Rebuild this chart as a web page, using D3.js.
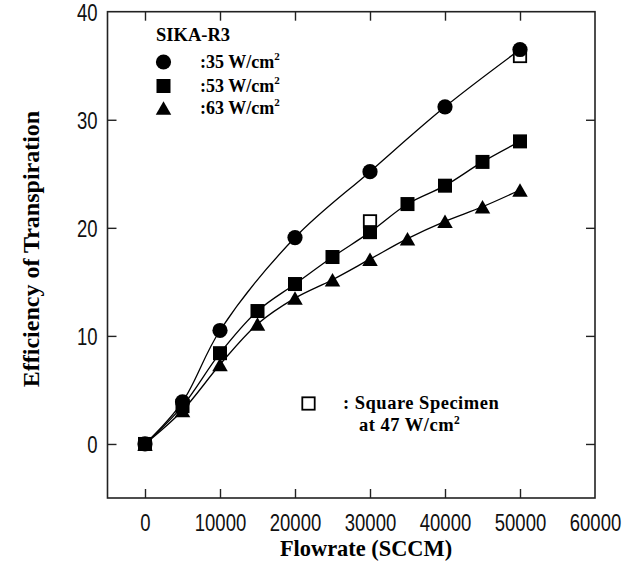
<!DOCTYPE html>
<html><head><meta charset="utf-8">
<script src="https://cdn.jsdelivr.net/npm/d3@7"></script>
<style>body{margin:0;background:#fff}</style>
</head><body><svg id="c" width="638" height="573"></svg>
<script>
const flow35 = [0, 5000, 10000, 20000, 30000, 40000, 50000];
const eff35 = [0, 3.9, 10.5, 19.1, 25.2, 31.2, 36.5];
const flow53 = [0, 5000, 10000, 15000, 20000, 25000, 30000, 35000, 40000, 45000, 50000];
const eff53 = [0, 3.5, 8.4, 12.3, 14.8, 17.3, 19.6, 22.2, 23.9, 26.1, 28.0];
const flow63 = [0, 5000, 10000, 15000, 20000, 25000, 30000, 35000, 40000, 45000, 50000];
const eff63 = [0, 3.1, 7.35, 11.1, 13.5, 15.2, 17.1, 19.0, 20.6, 21.95, 23.5];
const flowSquare = [30000, 50000];
const effSquare = [20.6, 35.9];
const xTicks = [0, 10000, 20000, 30000, 40000, 50000, 60000];
const yTicks = [0, 10, 20, 30, 40];
const legendLabels = [":35 W/cm", ":53 W/cm", ":63 W/cm"];
const legendTitle = "SIKA-R3";
const noteLines = [": Square Specimen", "at 47 W/cm"];
const xTitle = "Flowrate (SCCM)";
const yTitle = "Efficiency of Transpiration";

const svg = d3.select("#c");
const L = 107.5, R = 595, T = 11.7, B = 498;
const x = d3.scaleLinear().domain([-5000, 60000]).range([L, R]);
const y = d3.scaleLinear().domain([-5, 40]).range([B, T]);
const serif = "'Liberation Serif','Times New Roman',serif";
const sans = "'Liberation Sans',Arial,sans-serif";

// frame
svg.append("rect").attr("x", L).attr("y", T).attr("width", R - L).attr("height", B - T)
  .attr("fill", "none").attr("stroke", "#222").attr("stroke-width", 1.6);

function styleAxis(g) {
  g.select(".domain").remove();
  g.selectAll(".tick line").attr("stroke", "#222").attr("stroke-width", 1.4);
}
const TL = 9;
// bottom
const gx = svg.append("g").attr("transform", `translate(0,${B})`)
  .call(d3.axisBottom(x).tickValues(xTicks).tickSizeInner(-TL).tickSizeOuter(0).tickFormat(d3.format("d")));
styleAxis(gx);
gx.selectAll(".tick text").attr("y", 0).attr("dy", null)
  .attr("transform", "translate(0,33) scale(1,1.3)")
  .attr("font-family", sans).attr("font-size", 18.5).attr("fill", "#111");
gx.selectAll(".tick").filter(d => d === 60000).select("line").remove();
// top
const gt = svg.append("g").attr("transform", `translate(0,${T})`)
  .call(d3.axisTop(x).tickValues(xTicks.filter(d => d < 60000)).tickSizeInner(-TL).tickSizeOuter(0).tickFormat(""));
styleAxis(gt);
// left
const gy = svg.append("g").attr("transform", `translate(${L},0)`)
  .call(d3.axisLeft(y).tickValues(yTicks).tickSizeInner(-TL).tickSizeOuter(0));
styleAxis(gy);
gy.selectAll(".tick").filter(d => d === 40).select("line").remove();
gy.selectAll(".tick text").attr("x", 0).attr("dy", null)
  .attr("transform", "translate(-10,9) scale(1,1.3)")
  .attr("font-family", sans).attr("font-size", 18.5).attr("fill", "#111");
// right
const gr = svg.append("g").attr("transform", `translate(${R},0)`)
  .call(d3.axisRight(y).tickValues(yTicks.filter(d => d < 40)).tickSizeInner(-TL).tickSizeOuter(0).tickFormat(""));
styleAxis(gr);

// titles
svg.append("text").attr("x", 366).attr("y", 556).attr("text-anchor", "middle")
  .attr("font-family", serif).attr("font-weight", "bold").attr("font-size", 22.4).text(xTitle);
svg.append("text").attr("transform", `translate(39,249) rotate(-90)`).attr("text-anchor", "middle")
  .attr("font-family", serif).attr("font-weight", "bold").attr("font-size", 24).text(yTitle);

// series
const series = [
  {xs: flow63, ys: eff63, shape: "tri"},
  {xs: flow53, ys: eff53, shape: "sq"},
  {xs: flow35, ys: eff35, shape: "circ"}
];
const line = d3.line().x(d => x(d[0])).y(d => y(d[1])).curve(d3.curveCatmullRom.alpha(0.5));
series.forEach(s => {
  svg.append("path").datum(s.xs.map((v, i) => [v, s.ys[i]]))
    .attr("d", line).attr("fill", "none").attr("stroke", "#000").attr("stroke-width", 1.3);
});

function marker(g, shape, cx, cy, filled) {
  if (shape === "circ") {
    g.append("circle").attr("cx", cx).attr("cy", cy).attr("r", 7.6).attr("fill", "#000");
  } else if (shape === "sq") {
    if (filled) g.append("rect").attr("x", cx - 7).attr("y", cy - 7).attr("width", 14).attr("height", 14).attr("fill", "#000");
    else g.append("rect").attr("x", cx - 6.2).attr("y", cy - 6.2).attr("width", 12.4).attr("height", 12.4)
      .attr("fill", "#fff").attr("stroke", "#000").attr("stroke-width", 1.8);
  } else {
    const w = 15.5, h = 13.5;
    g.append("path").attr("d", `M${cx},${cy - h / 2}L${cx + w / 2},${cy + h / 2}L${cx - w / 2},${cy + h / 2}Z`).attr("fill", "#000");
  }
}
// open squares (square specimen)
flowSquare.forEach((v, i) => marker(svg, "sq", x(v), y(effSquare[i]), false));
series.forEach(s => {
  const g = svg.append("g");
  s.xs.forEach((v, i) => marker(g, s.shape, x(v), y(s.ys[i]), true));
});

// legend
const lg = svg.append("g").attr("font-family", serif).attr("font-weight", "bold");
lg.append("text").attr("x", 156).attr("y", 41).attr("font-size", 18.5).text(legendTitle);
const legShapes = ["circ", "sq", "tri"];
const legY = [62, 86, 108];
legShapes.forEach((sh, i) => {
  marker(lg, sh, 163.5, legY[i], true);
  const t = lg.append("text").attr("x", 200).attr("y", legY[i] + 6).attr("font-size", 18);
  t.append("tspan").text(legendLabels[i]);
  t.append("tspan").attr("font-size", 11).attr("dy", -8).text("2");
});

// note
marker(svg, "sq", 308.5, 403.5, false);
svg.append("text").attr("x", 343).attr("y", 409).attr("font-family", serif).attr("font-weight", "bold")
  .attr("font-size", 18.5).attr("letter-spacing", 0.5).text(noteLines[0]);
const n2 = svg.append("text").attr("x", 359).attr("y", 431).attr("font-family", serif).attr("font-weight", "bold")
  .attr("font-size", 18.5).attr("letter-spacing", 0.5);
n2.append("tspan").text(noteLines[1]);
n2.append("tspan").attr("font-size", 11.5).attr("dy", -7).text("2");
</script></body></html>
